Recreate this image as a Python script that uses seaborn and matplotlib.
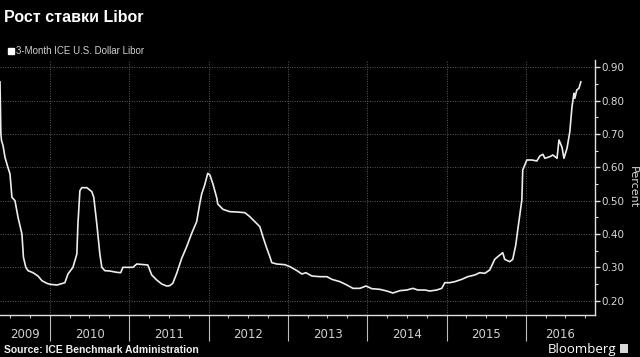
import pandas as pd
import matplotlib
matplotlib.use("Agg")
import matplotlib.pyplot as plt
import matplotlib.dates as mdates
from matplotlib.lines import Line2D
from matplotlib.patches import Rectangle
from matplotlib.ticker import MultipleLocator, FormatStrFormatter
import seaborn as sns

# 1. Datos (3-Month ICE U.S. Dollar Libor, %)
fechas = [
    "2009-05-15", "2009-05-19", "2009-05-22", "2009-05-29", "2009-06-07", "2009-06-18",
    "2009-06-30", "2009-07-09", "2009-07-23", "2009-08-06", "2009-08-24", "2009-08-31",
    "2009-09-11", "2009-09-21", "2009-10-14", "2009-11-06", "2009-11-24", "2009-12-17",
    "2010-01-01", "2010-02-02", "2010-03-10", "2010-03-24", "2010-04-16", "2010-05-04",
    "2010-05-09", "2010-05-18", "2010-05-27", "2010-06-19", "2010-07-12", "2010-07-21",
    "2010-08-04", "2010-08-18", "2010-08-27", "2010-09-10", "2010-10-03", "2010-11-04",
    "2010-11-22", "2010-12-02", "2011-01-17", "2011-02-04", "2011-03-13", "2011-03-27",
    "2011-04-14", "2011-05-07", "2011-05-30", "2011-06-22", "2011-07-06", "2011-07-20",
    "2011-08-07", "2011-08-30", "2011-09-22", "2011-10-15", "2011-11-07", "2011-11-21",
    "2011-11-30", "2011-12-14", "2011-12-28", "2012-01-07", "2012-01-21", "2012-02-08",
    "2012-02-12", "2012-03-07", "2012-04-08", "2012-05-11", "2012-06-16", "2012-07-09",
    "2012-08-01", "2012-08-24", "2012-09-07", "2012-09-25", "2012-10-09", "2012-10-18",
    "2012-11-10", "2012-12-17", "2013-01-10", "2013-02-11", "2013-03-06", "2013-03-24",
    "2013-04-12", "2013-04-21", "2013-05-28", "2013-06-29", "2013-07-22", "2013-08-28",
    "2013-09-29", "2013-10-27", "2013-11-28", "2013-12-26", "2014-01-22", "2014-02-28",
    "2014-04-01", "2014-04-29", "2014-05-31", "2014-07-02", "2014-07-30", "2014-08-22",
    "2014-09-23", "2014-10-16", "2014-11-17", "2014-12-10", "2014-12-24", "2015-01-16",
    "2015-02-08", "2015-03-12", "2015-04-09", "2015-05-11", "2015-06-03", "2015-06-26",
    "2015-07-19", "2015-08-11", "2015-08-25", "2015-09-17", "2015-09-26", "2015-10-19",
    "2015-11-02", "2015-11-16", "2015-11-25", "2015-12-14", "2015-12-18", "2016-01-06",
    "2016-01-29", "2016-02-21", "2016-03-06", "2016-03-20", "2016-03-29", "2016-04-21",
    "2016-05-05", "2016-05-24", "2016-06-02", "2016-06-16", "2016-06-25", "2016-07-09",
    "2016-07-22", "2016-08-01", "2016-08-10", "2016-08-14", "2016-08-23", "2016-09-02",
    "2016-09-11",
]
libor = [
    0.857, 0.700, 0.680, 0.665, 0.630, 0.605,
    0.580, 0.510, 0.500, 0.450, 0.400, 0.330,
    0.300, 0.290, 0.284, 0.274, 0.260, 0.252,
    0.249, 0.247, 0.254, 0.280, 0.300, 0.340,
    0.430, 0.530, 0.539, 0.539, 0.527, 0.510,
    0.430, 0.340, 0.300, 0.290, 0.289, 0.285,
    0.284, 0.300, 0.300, 0.310, 0.308, 0.307,
    0.277, 0.262, 0.250, 0.244, 0.245, 0.252,
    0.282, 0.327, 0.362, 0.402, 0.437, 0.490,
    0.520, 0.547, 0.582, 0.577, 0.550, 0.507,
    0.490, 0.474, 0.467, 0.466, 0.464, 0.452,
    0.437, 0.422, 0.392, 0.357, 0.332, 0.314,
    0.310, 0.308, 0.302, 0.290, 0.280, 0.284,
    0.277, 0.274, 0.272, 0.272, 0.264, 0.257,
    0.247, 0.237, 0.237, 0.244, 0.236, 0.234,
    0.229, 0.223, 0.230, 0.232, 0.237, 0.232,
    0.232, 0.229, 0.232, 0.237, 0.254, 0.254,
    0.257, 0.264, 0.272, 0.277, 0.284, 0.282,
    0.292, 0.324, 0.332, 0.344, 0.324, 0.317,
    0.324, 0.367, 0.412, 0.502, 0.592, 0.622,
    0.622, 0.619, 0.634, 0.639, 0.627, 0.632,
    0.637, 0.627, 0.682, 0.660, 0.627, 0.657,
    0.707, 0.782, 0.822, 0.807, 0.832, 0.837,
    0.857,
]
anios = [2009, 2010, 2011, 2012, 2013, 2014, 2015, 2016]
y_ticks = [0.20, 0.30, 0.40, 0.50, 0.60, 0.70, 0.80, 0.90]

df = pd.DataFrame({"Fecha": pd.to_datetime(fechas), "Libor": libor})

# 2. Estilo oscuro tipo Bloomberg
sns.set_theme(style="dark", rc={
    "figure.facecolor": "black",
    "axes.facecolor": "black",
    "savefig.facecolor": "black",
})
plt.rcParams["font.family"] = ["DejaVu Sans"]

fig = plt.figure(figsize=(6.4, 3.57), dpi=100)
ax = fig.add_axes([0.0, 0.1176, 0.9297, 0.7144])

sns.lineplot(data=df, x="Fecha", y="Libor", color="#ededed", linewidth=1.2, ax=ax)

x_min = pd.Timestamp("2009-05-15")
x_max = pd.Timestamp("2016-11-15")
ax.set_xlim(x_min, x_max)
ax.set_ylim(0.157, 0.922)

# 3. Ejes
for lado in ["left", "top"]:
    ax.spines[lado].set_visible(False)
for lado in ["right", "bottom"]:
    ax.spines[lado].set_visible(True)
    ax.spines[lado].set_color("#e0e0e0")
    ax.spines[lado].set_linewidth(1.0)

ax.yaxis.tick_right()
ax.set_yticks(y_ticks)
ax.yaxis.set_minor_locator(MultipleLocator(0.05))
ax.yaxis.set_major_formatter(FormatStrFormatter("%.2f"))
ax.tick_params(axis="y", which="major", direction="out", length=3.5, width=1,
               color="#e0e0e0", labelcolor="#d8d8d8", labelsize=7.5, pad=0.8,
               left=False, right=True)
ax.tick_params(axis="y", which="minor", direction="out", length=2, width=0.8,
               color="#e0e0e0", left=False, right=True)
ax.set_ylabel("")
ax.set_xlabel("")
fig.text(0.989, 0.475, "Percent", color="#d8d8d8", fontsize=8, rotation=-90,
         ha="center", va="center")

ax.xaxis.set_major_locator(mdates.YearLocator())
ax.xaxis.set_minor_locator(mdates.MonthLocator(bymonth=[4, 7, 10]))
ax.xaxis.set_major_formatter(plt.NullFormatter())
ax.tick_params(axis="x", which="major", direction="out", length=19, width=0.8,
               color="#bdbdbd", bottom=True)
ax.tick_params(axis="x", which="minor", direction="out", length=2, width=0.8,
               color="#bdbdbd", bottom=True)

ax.grid(True, which="major", axis="both", color="#5a5a5a", linestyle=(0, (1, 1.5)),
        linewidth=0.7)

# etiquetas de anio centradas en la parte visible
trans = ax.get_xaxis_transform()
for a in anios:
    ini = max(pd.Timestamp(f"{a}-01-01"), x_min)
    fin = min(pd.Timestamp(f"{a + 1}-01-01"), x_max)
    centro = ini + (fin - ini) / 2
    ax.text(centro, -0.078, str(a), transform=trans, ha="center", va="center",
            color="#d0d0d0", fontsize=8.5)

# 4. Textos
fig.text(0.006, 0.95, "Рост ставки Libor", color="white", fontsize=11.5,
         fontweight="bold", family=["Liberation Sans", "DejaVu Sans"], va="center")

leg_handle = Line2D([], [], marker="s", linestyle="", color="white", markersize=5)
fig.legend(handles=[leg_handle], labels=["3-Month ICE U.S. Dollar Libor"],
           loc="center left", bbox_to_anchor=(-0.004, 0.857), frameon=False,
           handletextpad=0.05, handlelength=1.0, labelcolor="#d0d0d0",
           prop={"size": 7, "family": ["Liberation Sans", "DejaVu Sans"]})

fig.text(0.006, 0.02, "Source: ICE Benchmark Administration", color="#f0f0f0",
         fontsize=7.5, fontweight="bold", va="center",
         family=["Liberation Sans", "DejaVu Sans"])
fig.text(0.963, 0.022, "Bloomberg", color="white", fontsize=9.5, ha="right",
         va="center", family=["Open Sans", "DejaVu Sans"])
fig.patches.append(Rectangle((0.968, 0.01), 0.014, 0.026, transform=fig.transFigure,
                             facecolor="#d8d8d8", edgecolor="none"))

fig.savefig("out.png", dpi=100, facecolor="black")
